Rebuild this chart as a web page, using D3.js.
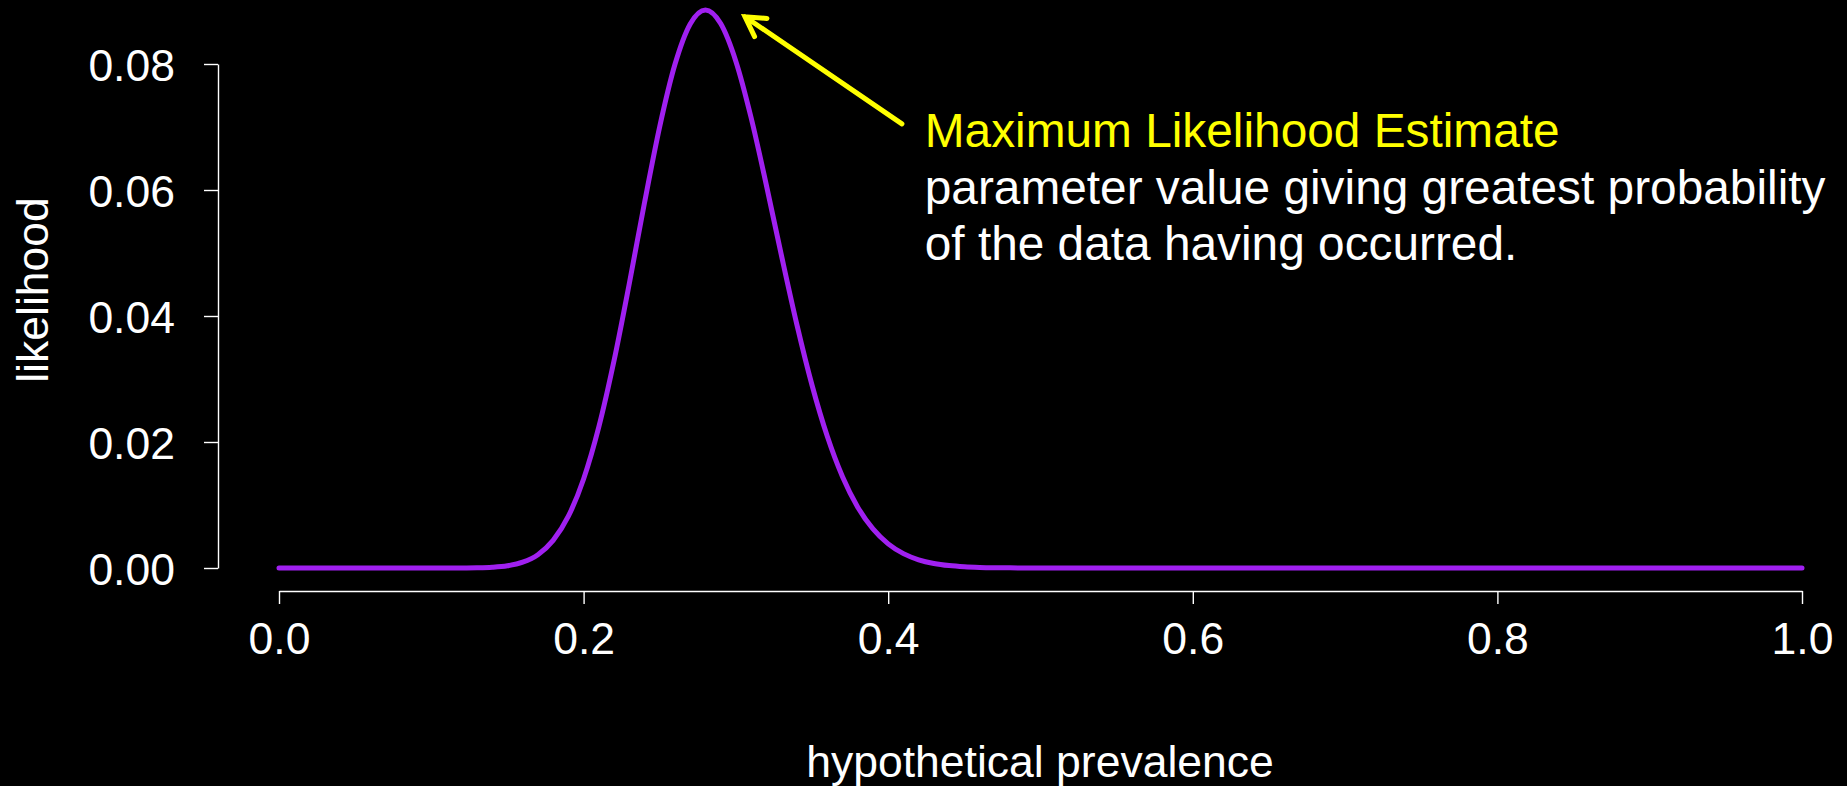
<!DOCTYPE html>
<html>
<head>
<meta charset="utf-8">
<script src="https://cdn.jsdelivr.net/npm/d3@7"></script>
<style>
  html, body { margin: 0; padding: 0; background: #000; }
  svg { display: block; }
  text { font-family: "Liberation Sans", Arial, Helvetica, sans-serif; }
</style>
</head>
<body>
<script>
// ---- data ----
const prevalence = [0.00, 0.05, 0.10, 0.11, 0.12, 0.13, 0.14, 0.15, 0.16, 0.17, 0.18, 0.19,
  0.20, 0.21, 0.22, 0.23, 0.24, 0.25, 0.26, 0.27, 0.28, 0.29, 0.30, 0.31, 0.32, 0.33, 0.34,
  0.35, 0.36, 0.37, 0.38, 0.39, 0.40, 0.41, 0.42, 0.43, 0.44, 0.45, 0.46, 0.47, 0.48, 0.49,
  0.50, 0.55, 0.60, 0.65, 0.70, 0.75, 0.80, 0.85, 0.90, 0.95, 1.00];
const likelihood = [0, 0, 0.0000003, 0.0000016, 0.0000083, 0.0000342, 0.0001187, 0.000353,
  0.000917, 0.002114, 0.004377, 0.008220,
  0.014131, 0.022396, 0.032925, 0.045141, 0.057991, 0.070082, 0.079948, 0.086357, 0.088590,
  0.086422, 0.080411, 0.071469, 0.060776, 0.049502, 0.038677,
  0.029009, 0.020908, 0.014489, 0.009661, 0.006201, 0.003832, 0.002281, 0.001308, 0.000723,
  0.000385, 0.000197, 0.0000974, 0.0000463, 0.0000212, 0.0000093,
  0.0000039, 0, 0, 0, 0, 0, 0, 0, 0, 0, 0];
const xTicks = [0.0, 0.2, 0.4, 0.6, 0.8, 1.0];
const yTicks = [0.00, 0.02, 0.04, 0.06, 0.08];
const xTitle = "hypothetical prevalence";
const yTitle = "likelihood";
const noteTitle = "Maximum Likelihood Estimate";
const noteLines = ["parameter value giving greatest probability", "of the data having occurred."];
// annotation anchor points in data units
const arrowTip = [0.306, 0.0875];
const arrowTail = [0.409, 0.0705];
const noteAt = [0.424, 0.0668];

// ---- layout ----
const W = 1847, H = 786;
const svg = d3.select("body").append("svg").attr("width", W).attr("height", H)
  .style("background", "#000");

const x = d3.scaleLinear().domain([0, 1]).range([279, 1802]);
const y = d3.scaleLinear().domain([0, 0.08]).range([568, 64]);
const axisY = 591;   // bottom of plot region
const axisX = 218;   // left of plot region
const fs = 44.5;

// x axis
const gx = svg.append("g").attr("transform", `translate(0,${axisY})`)
  .call(d3.axisBottom(x).tickValues(xTicks).tickFormat(d3.format(".1f"))
    .tickSize(13).tickSizeOuter(0));
gx.selectAll("text").attr("y", 63).attr("dy", 0)
  .attr("fill", "#fff").style("font-size", fs + "px");

// y axis
const gy = svg.append("g").attr("transform", `translate(${axisX},0)`)
  .call(d3.axisLeft(y).tickValues(yTicks).tickFormat(d3.format(".2f"))
    .tickSize(14).tickSizeOuter(0));
gy.selectAll("text").attr("x", -43).attr("dy", "0.36em")
  .attr("fill", "#fff").style("font-size", fs + "px");

svg.selectAll(".domain, .tick line").attr("stroke", "#fff").attr("stroke-width", 1.4);

// titles
svg.append("text").attr("x", 1040).attr("y", 777).attr("text-anchor", "middle")
  .attr("fill", "#fff").style("font-size", fs + "px").text(xTitle);
svg.append("text").attr("transform", "translate(48,290) rotate(-90)")
  .attr("text-anchor", "middle").attr("fill", "#fff").style("font-size", fs + "px")
  .text(yTitle);

// curve
const pts = prevalence.map((p, i) => [p, likelihood[i]]);
svg.append("path").datum(pts)
  .attr("d", d3.line().x(d => x(d[0])).y(d => y(d[1])).curve(d3.curveMonotoneX))
  .attr("fill", "none").attr("stroke", "#A020F0").attr("stroke-width", 5)
  .attr("stroke-linecap", "round").attr("stroke-linejoin", "round");

// arrow
const tx = x(arrowTip[0]), ty = y(arrowTip[1]);
const sx = x(arrowTail[0]), sy = y(arrowTail[1]);
const ang = Math.atan2(sy - ty, sx - tx);
const hl = 22, ha = Math.PI / 6;
const arrowPath = d3.path();
arrowPath.moveTo(sx, sy); arrowPath.lineTo(tx, ty);
arrowPath.moveTo(tx + hl * Math.cos(ang - ha), ty + hl * Math.sin(ang - ha));
arrowPath.lineTo(tx, ty);
arrowPath.lineTo(tx + hl * Math.cos(ang + ha), ty + hl * Math.sin(ang + ha));
svg.append("path").attr("d", arrowPath.toString())
  .attr("fill", "none").attr("stroke", "#FFFF00").attr("stroke-width", 5)
  .attr("stroke-linecap", "round").attr("stroke-linejoin", "miter");

// annotation text
const nfs = 47.8, lh = 56.5;
const nx = x(noteAt[0]), ny = y(noteAt[1]);
svg.append("text").attr("x", nx).attr("y", ny).attr("fill", "#FFFF00")
  .style("font-size", nfs + "px").text(noteTitle);
noteLines.forEach((t, i) => {
  svg.append("text").attr("x", nx).attr("y", ny + lh * (i + 1)).attr("fill", "#fff")
    .style("font-size", nfs + "px").text(t);
});
</script>
</body>
</html>
